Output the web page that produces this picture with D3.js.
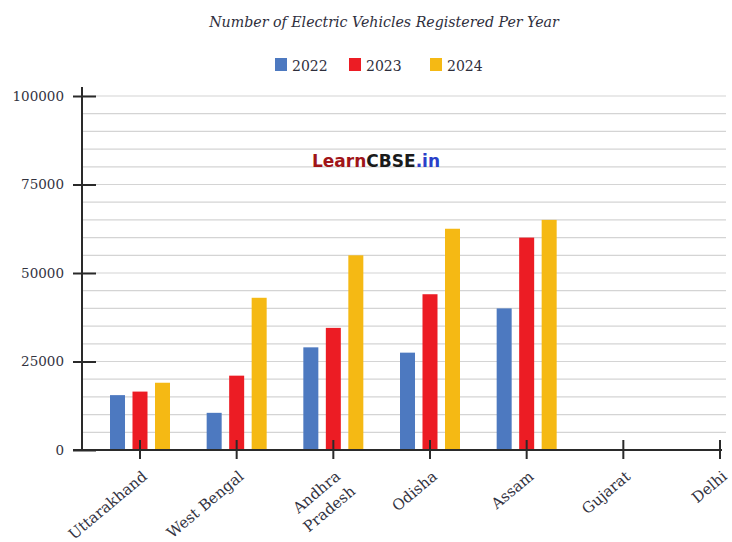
<!DOCTYPE html>
<html>
<head>
<meta charset="utf-8">
<script src="https://cdn.jsdelivr.net/npm/d3@7"></script>
<style>
  html, body { margin: 0; padding: 0; background: #ffffff; }
  #chart { width: 732px; height: 542px; }
  .title { font-family: 'DejaVu Serif', serif; font-style: italic; font-size: 14.2px; fill: #2e2e3c; }
  .legend-label { font-family: 'DejaVu Serif', serif; font-size: 14px; fill: #2e2e3c; }
  .axis text { font-family: 'DejaVu Serif', serif; font-size: 13.5px; fill: #33333f; }
  .cat-label { font-family: 'DejaVu Serif', serif; font-size: 15px; fill: #33333f; }
  .grid line { stroke: #d4d4d4; stroke-width: 1.2px; }
  .watermark { font-family: 'DejaVu Sans', sans-serif; font-size: 17px; font-weight: bold; }
</style>
</head>
<body>
<div id="chart"></div>
<script>
// ── data ──────────────────────────────────────────────
const states = ["Uttarakhand", "West Bengal", "Andhra Pradesh", "Odisha", "Assam", "Gujarat", "Delhi"];
const years = ["2022", "2023", "2024"];
const ev2022 = [15500, 10500, 29000, 27500, 40000, null, null];
const ev2023 = [16500, 21000, 34500, 44000, 60000, null, null];
const ev2024 = [19000, 43000, 55000, 62500, 65000, null, null];
const yTicks = [0, 25000, 50000, 75000, 100000];
const colors = ["#4d79c0", "#ec1c24", "#f5b914"];

const series = [ev2022, ev2023, ev2024];

// ── layout ────────────────────────────────────────────
const W = 732, H = 542;
const margin = { top: 96, left: 82, right: 10, bottom: 92 };
const plotW = W - margin.left - margin.right;
const plotH = H - margin.top - margin.bottom;

const svg = d3.select("#chart").append("svg")
  .attr("width", W).attr("height", H);

const g = svg.append("g")
  .attr("transform", `translate(${margin.left},${margin.top})`);

// ── scales ────────────────────────────────────────────
const x = d3.scalePoint()
  .domain(states)
  .range([58, 638]);

const y = d3.scaleLinear()
  .domain([0, 100000])
  .range([plotH, 0]);

const offset = d3.scaleBand()
  .domain(years)
  .range([-30, 30])
  .paddingInner(0.333);

// minor gridlines every 5000
g.append("g")
  .attr("class", "grid")
  .selectAll("line")
  .data(d3.range(5000, 100001, 5000))
  .join("line")
    .attr("x1", 0).attr("x2", plotW + 4)
    .attr("y1", d => y(d)).attr("y2", d => y(d));

// ── title & legend ────────────────────────────────────
svg.append("text")
  .attr("class", "title")
  .attr("x", 384).attr("y", 27)
  .attr("text-anchor", "middle")
  .text("Number of Electric Vehicles Registered Per Year");

const legend = svg.append("g").attr("transform", "translate(275,58)");
const legendX = [0, 74, 155];
years.forEach((yr, i) => {
  const item = legend.append("g").attr("transform", `translate(${legendX[i]},0)`);
  item.append("rect").attr("width", 12).attr("height", 13).attr("fill", colors[i]);
  item.append("text").attr("class", "legend-label")
    .attr("x", 17).attr("y", 13).text(yr);
});

// ── watermark ─────────────────────────────────────────
const wm = svg.append("text").attr("class", "watermark")
  .attr("x", 312).attr("y", 167);
wm.append("tspan").attr("fill", "#a01418").text("Learn");
wm.append("tspan").attr("fill", "#1a1a1a").text("CBSE");
wm.append("tspan").attr("fill", "#2a3fc8").text(".in");

// ── bars ──────────────────────────────────────────────
series.forEach((vals, si) => {
  g.append("g")
    .selectAll("rect")
    .data(states.map((s, i) => ({ state: s, value: vals[i] })).filter(d => d.value != null))
    .join("rect")
      .attr("x", d => x(d.state) + offset(years[si]))
      .attr("y", d => y(d.value))
      .attr("width", offset.bandwidth())
      .attr("height", d => plotH - y(d.value))
      .attr("fill", colors[si]);
});

// ── axes ──────────────────────────────────────────────
const yAxis = g.append("g")
  .attr("class", "axis")
  .call(d3.axisLeft(y).tickValues(yTicks).tickFormat(d3.format("d")).tickSize(0).tickPadding(18));
yAxis.select(".domain").remove();
yAxis.append("line")
  .attr("x1", 0).attr("x2", 0)
  .attr("y1", -9).attr("y2", plotH)
  .attr("stroke", "#2a2a2a").attr("stroke-width", 2);
yAxis.selectAll(".tick").append("line")
  .attr("x1", -9).attr("x2", 14)
  .attr("stroke", "#2a2a2a").attr("stroke-width", 2);

const xAxis = g.append("g")
  .attr("transform", `translate(0,${plotH})`);
xAxis.append("line")
  .attr("x1", -9).attr("x2", plotW)
  .attr("stroke", "#2a2a2a").attr("stroke-width", 2);
xAxis.selectAll(".xtick")
  .data(states)
  .join("line")
    .attr("x1", d => x(d)).attr("x2", d => x(d))
    .attr("y1", -10).attr("y2", 9)
    .attr("stroke", "#2a2a2a").attr("stroke-width", 2);

// rotated category labels (Andhra Pradesh wraps onto two lines)
xAxis.selectAll(".cat-label")
  .data(states)
  .join("text")
    .attr("class", "cat-label")
    .attr("text-anchor", "end")
    .attr("transform", d => `translate(${x(d) + 8},${28}) rotate(-40)`)
    .each(function (d) {
      const parts = d === "Andhra Pradesh" ? ["Andhra", "Pradesh"] : [d];
      const t = d3.select(this);
      parts.forEach((p, i) => {
        t.append("tspan")
          .attr("x", i === 0 ? 0 : 2)
          .attr("dy", i === 0 ? 0 : 21)
          .text(p);
      });
    });
</script>
</body>
</html>
